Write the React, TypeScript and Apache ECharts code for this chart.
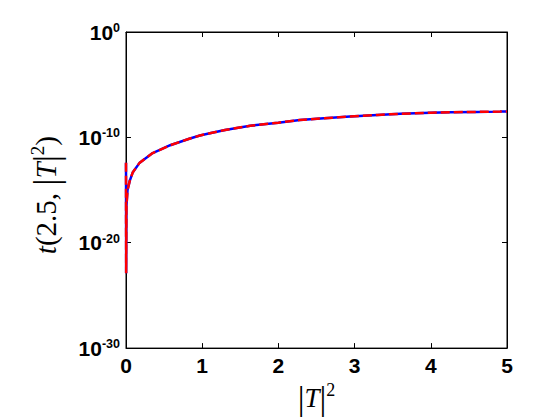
import React, { useEffect, useRef } from "react";
import * as echarts from "echarts";

// |T|^2 sample positions
const tSquared = [
  0, 0.002, 0.006, 0.02, 0.05, 0.09, 0.18, 0.35, 0.58, 0.84, 0.97, 1.1, 1.3,
  1.63, 2.0, 2.28, 2.6, 2.94, 3.3, 3.6, 4.0, 4.25, 4.6, 4.91, 5.0,
];
// t(2.5, |T|^2) values
const tValues = [
  4.0e-13, 1.3e-23, 3.2e-17, 1.0e-15, 7.9e-15, 5.0e-14, 4.0e-13, 3.2e-12,
  1.8e-11, 7.9e-11, 1.5e-10, 2.5e-10, 5.0e-10, 1.26e-9, 2.5e-9, 4.4e-9,
  6.6e-9, 9.5e-9, 1.35e-8, 1.74e-8, 2.2e-8, 2.4e-8, 2.6e-8, 2.8e-8, 2.9e-8,
];
const xTicks = [0, 1, 2, 3, 4, 5];
// decade exponents of the log y-axis (10^-30 ... 10^0)
const yDecades = [-30, -20, -10, 0];

const SANS = "Liberation Sans, Arial, sans-serif";
const SERIF = "Liberation Serif, Times New Roman, serif";

const makeRich = (fs: number, vs: number, ss: number) => ({
  i: { fontFamily: SERIF, fontStyle: "italic", fontSize: fs, lineHeight: vs, color: "#000" },
  p: { fontFamily: SERIF, fontSize: fs, lineHeight: vs, color: "#000" },
  v: { fontFamily: SERIF, fontSize: vs, lineHeight: vs, color: "#000" },
  s: { fontFamily: SERIF, fontSize: ss, lineHeight: ss, color: "#000", verticalAlign: "top" },
});

export default function App() {
  const ref = useRef<HTMLDivElement>(null);
  useEffect(() => {
    document.body.style.margin = "0";
    const chart = echarts.init(ref.current!, null, { renderer: "svg" });
    // log10 mapping of the values onto a linear decade axis
    const pts = tSquared.map((x, i) => [x, Math.log10(tValues[i])]);
    const axisLine = { show: true, onZero: false, lineStyle: { color: "#000", width: 1 } };
    const tick = { show: true, inside: true, length: 5, lineStyle: { color: "#000" } };
    const yMin = yDecades[0];
    const yMax = yDecades[yDecades.length - 1];
    const yInterval = yDecades[1] - yDecades[0];
    chart.setOption({
      animation: false,
      backgroundColor: "#fff",
      grid: {
        left: 126,
        right: 53,
        top: 32,
        bottom: 67,
        show: true,
        borderColor: "#000",
        borderWidth: 1,
      },
      xAxis: [
        {
          type: "value",
          min: xTicks[0],
          max: xTicks[xTicks.length - 1],
          interval: 1,
          position: "bottom",
          axisLine,
          axisTick: tick,
          splitLine: { show: false },
          axisLabel: {
            margin: 7,
            fontFamily: SANS,
            fontWeight: "bold",
            fontSize: 21,
            color: "#000",
          },
          name: "{v||}{i|T}{v||}{s|2}",
          nameLocation: "middle",
          nameGap: 28,
          nameTextStyle: { rich: makeRich(27, 34, 18) },
        },
        {
          type: "value",
          min: xTicks[0],
          max: xTicks[xTicks.length - 1],
          interval: 1,
          position: "top",
          axisLine,
          axisTick: tick,
          axisLabel: { show: false },
          splitLine: { show: false },
        },
      ],
      yAxis: [
        {
          type: "value",
          min: yMin,
          max: yMax,
          interval: yInterval,
          position: "left",
          axisLine,
          axisTick: tick,
          splitLine: { show: false },
          axisLabel: {
            margin: 6,
            formatter: (v: number) => `{b|10}{s|${Math.round(v)}}`,
            rich: {
              b: {
                fontFamily: SANS,
                fontWeight: "bold",
                fontSize: 21,
                lineHeight: 21,
                padding: [7, 0, 7, 0],
                color: "#000",
              },
              s: {
                fontFamily: SANS,
                fontWeight: "bold",
                fontSize: 12.5,
                lineHeight: 12,
                verticalAlign: "top",
                color: "#000",
              },
            },
          },
          name: "{i|t}{p|(2.5, }{v||}{i|T}{v||}{s|2}{p|)}",
          nameLocation: "middle",
          nameGap: 62,
          nameTextStyle: { rich: makeRich(29, 36, 19), padding: [0, 10, 0, 0] },
        },
        {
          type: "value",
          min: yMin,
          max: yMax,
          interval: yInterval,
          position: "right",
          axisLine,
          axisTick: tick,
          axisLabel: { show: false },
          splitLine: { show: false },
        },
      ],
      series: [
        {
          type: "line",
          data: pts,
          xAxisIndex: 0,
          yAxisIndex: 0,
          showSymbol: false,
          lineStyle: { color: "#0000ff", width: 2.5 },
        },
        {
          type: "line",
          data: pts,
          xAxisIndex: 0,
          yAxisIndex: 0,
          showSymbol: false,
          lineStyle: { color: "#ff0000", width: 2.5, type: [9, 4] },
        },
      ],
    });
    return () => chart.dispose();
  }, []);
  return (
    <div
      ref={ref}
      style={{ position: "absolute", left: 0, top: 0, width: 560, height: 420, background: "#fff" }}
    />
  );
}
